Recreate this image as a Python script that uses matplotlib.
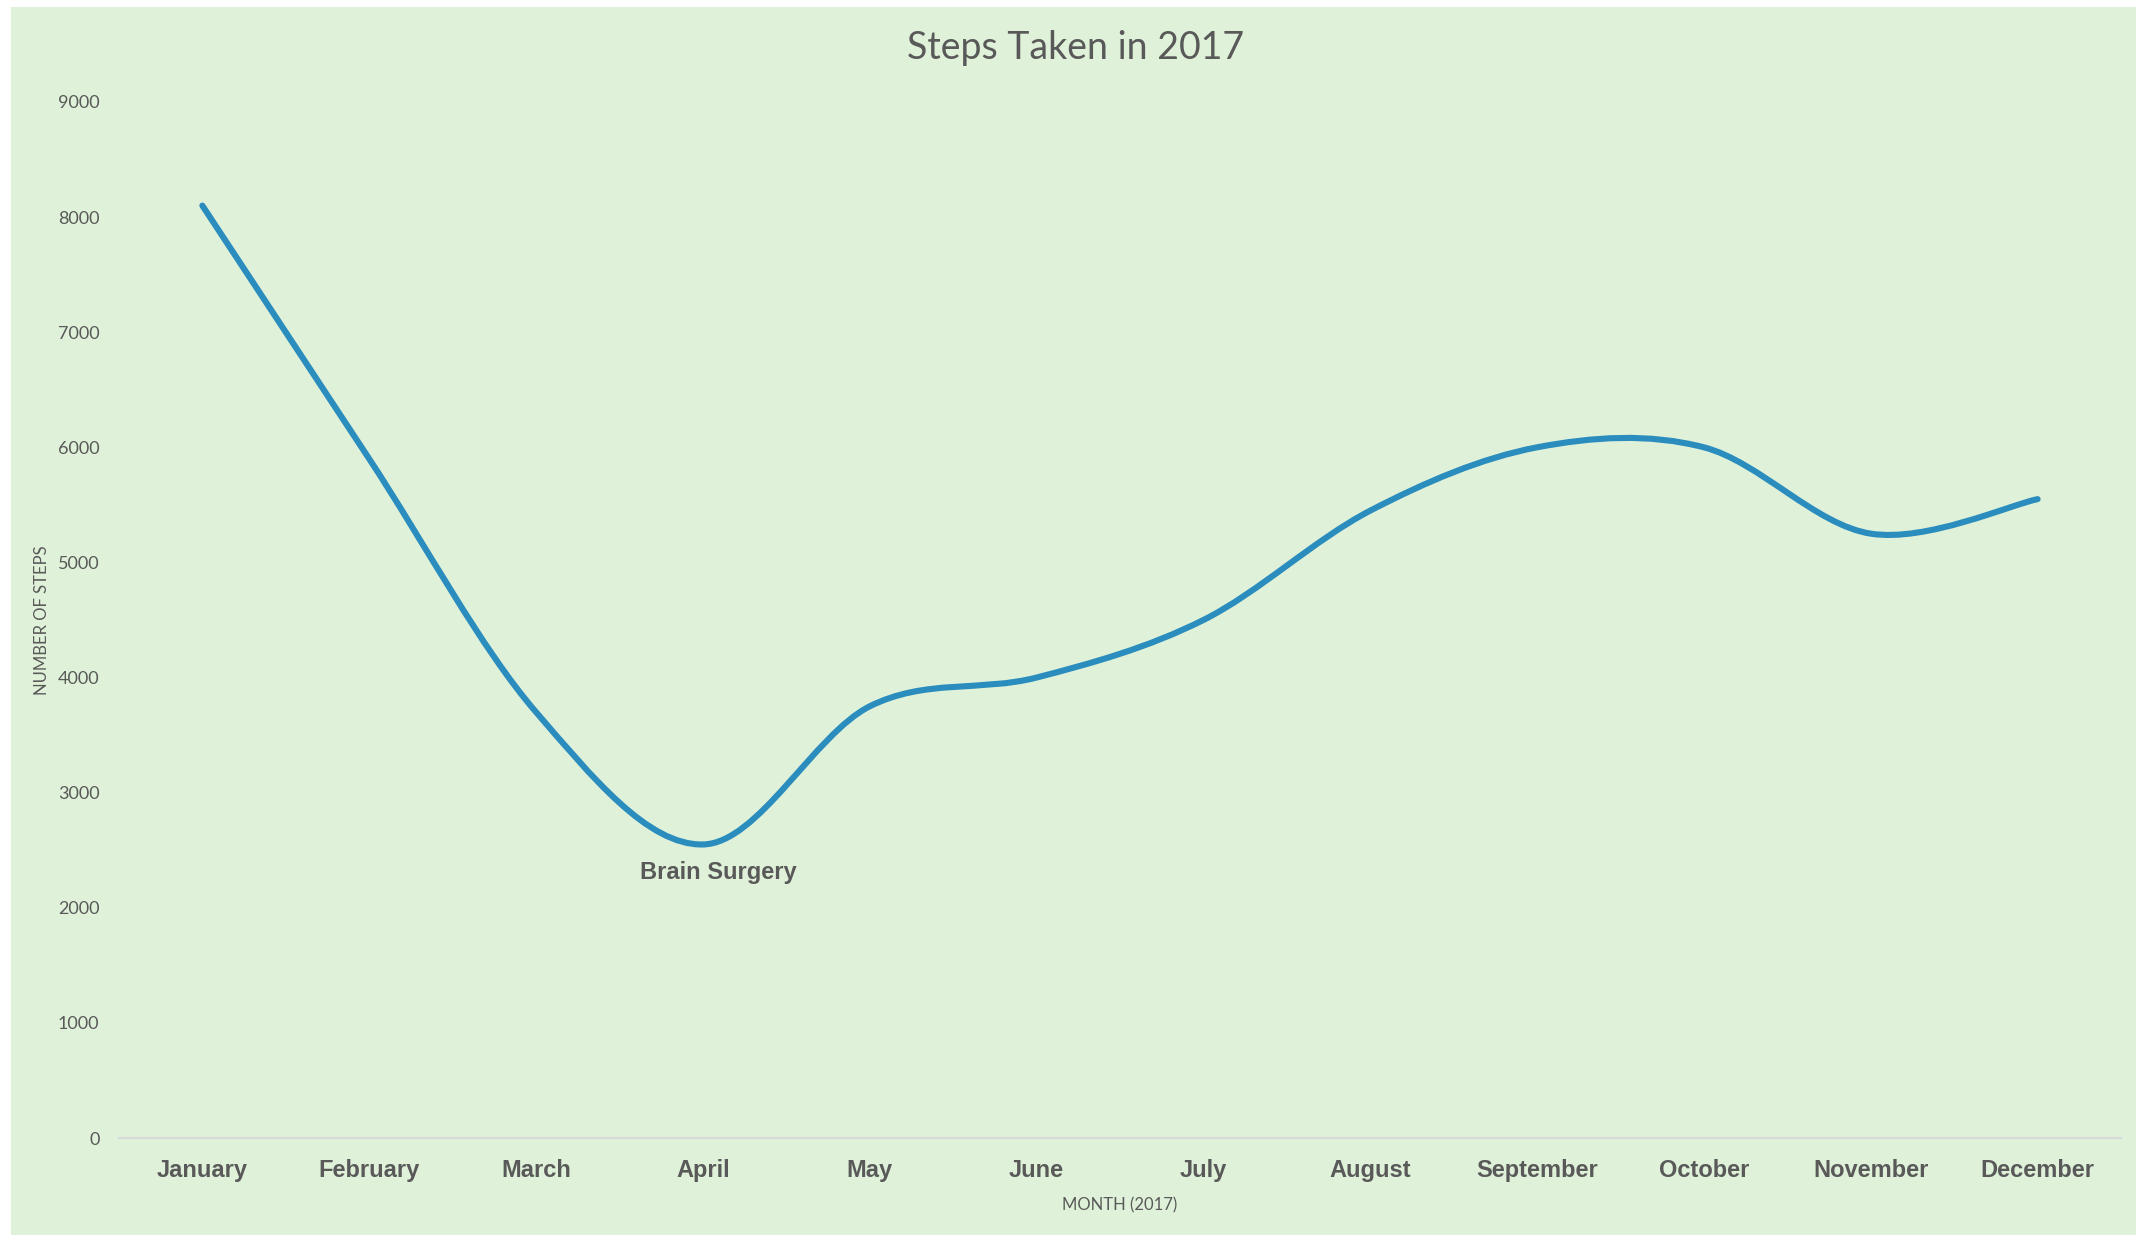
import numpy as np
import matplotlib
matplotlib.use("Agg")
import matplotlib.pyplot as plt
from matplotlib.path import Path
from matplotlib.patches import PathPatch, Rectangle

# Дані: кроки за місяць (2017)
months = ['January', 'February', 'March', 'April', 'May', 'June', 'July',
          'August', 'September', 'October', 'November', 'December']
steps = [8100, 5900, 3700, 2550, 3750, 4000, 4500, 5450, 6000, 6000, 5250, 5550]
y_ticks = [0, 1000, 2000, 3000, 4000, 5000, 6000, 7000, 8000, 9000]

grey = '#595959'
narrow = ['Liberation Sans Narrow', 'Lato', 'DejaVu Sans']
bold_font = ['Liberation Sans', 'DejaVu Sans']

fig = plt.figure(figsize=(21.39, 12.39), dpi=100, facecolor='white')

# Зелене тло області діаграми
fig.patches.append(Rectangle((0.0051, 0.0032), 0.9935, 0.991, transform=fig.transFigure,
                             facecolor='#dff2d9', edgecolor='none', zorder=-10))

ax = fig.add_axes([0.0556, 0.0815, 0.936, 0.8362])
ax.set_facecolor('none')

# Згладжена лінія (Безьє, як у Excel)
xs = np.arange(len(months), dtype=float)
pts = np.column_stack([xs, np.array(steps, dtype=float)])
pad = np.vstack([pts[0], pts, pts[-1]])
verts = [tuple(pts[0])]
codes = [Path.MOVETO]
for i in range(len(pts) - 1):
    c1 = pts[i] + (pad[i + 2] - pad[i]) / 6
    c2 = pts[i + 1] - (pad[i + 3] - pad[i + 1]) / 6
    verts += [tuple(c1), tuple(c2), tuple(pts[i + 1])]
    codes += [Path.CURVE4] * 3
ax.add_patch(PathPatch(Path(verts, codes), facecolor='none', edgecolor='#2b8cbe',
                       linewidth=4.4, capstyle='round', joinstyle='round'))

ax.set_xlim(-0.5, len(months) - 0.5)
ax.set_ylim(0, 9000)
ax.set_xticks(xs)
ax.set_xticklabels(months, fontsize=17, fontweight='bold', color=grey, family=bold_font)
ax.set_yticks(y_ticks)
ax.set_yticklabels([str(v) for v in y_ticks], fontsize=13, color=grey, family=narrow)
ax.tick_params(axis='x', length=0, pad=15)
ax.tick_params(axis='y', length=0, pad=14)

for s in ['top', 'right', 'left']:
    ax.spines[s].set_visible(False)
ax.spines['bottom'].set_color('#d9d9d9')
ax.spines['bottom'].set_linewidth(1.5)

ax.set_ylabel('NUMBER OF STEPS', fontsize=12, color=grey, family=narrow, va='center')
ax.yaxis.set_label_coords(-0.0385, 0.5)
ax.set_xlabel('MONTH (2017)', fontsize=12, color=grey, family=narrow, va='center')
ax.xaxis.set_label_coords(0.5, -0.065)

# Підпис для квітня
ax.annotate('Brain Surgery', xy=(xs[3], steps[3]), xytext=(11, -20), textcoords='offset points',
            ha='center', va='center', fontsize=17, fontweight='bold', color=grey, family=bold_font)

fig.text(1076 / 2139, 1 - 48 / 1239, 'Steps Taken in 2017', ha='center', va='center',
         fontsize=27, color=grey, family=narrow)

fig.savefig('out.png', dpi=100, facecolor='white')
